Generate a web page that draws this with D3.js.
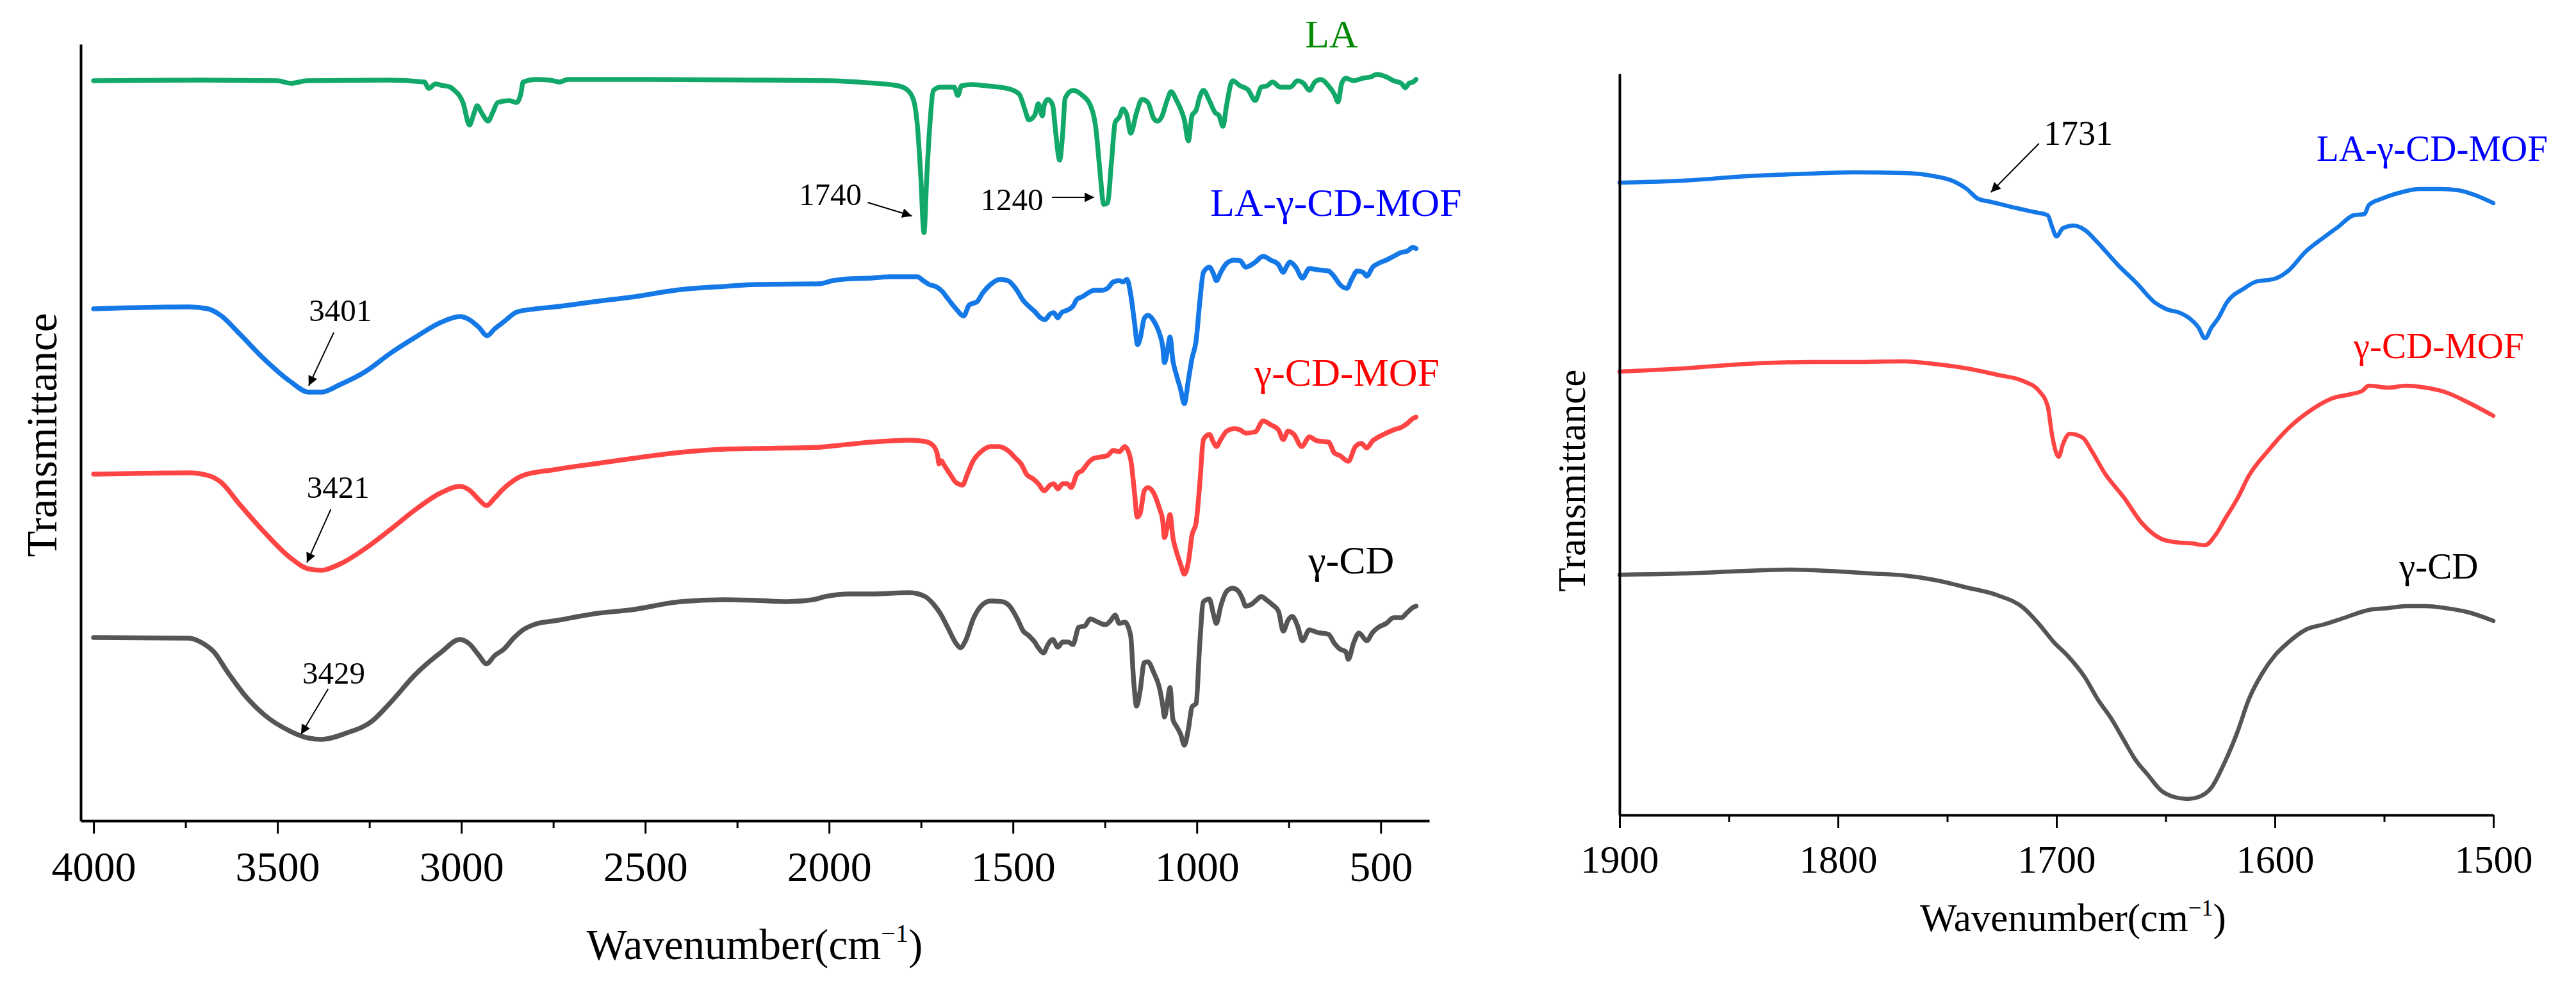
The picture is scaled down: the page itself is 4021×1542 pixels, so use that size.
<!DOCTYPE html>
<html><head><meta charset="utf-8">
<script src="https://cdn.jsdelivr.net/npm/d3@7"></script>
<style>
body{margin:0;background:#fff}
svg{display:block}
text{font-family:"Liberation Serif","Times New Roman",serif}
</style>
</head><body>
<svg id="c" width="4021" height="1542"></svg>
<script>
// ---------- DATA (wavenumber cm-1, transmittance in arbitrary offset units) ----------
const laFull = [[4000,115.5],[3700,115.6],[3500,115.5],[3463,115.1],[3420,115.5],[3200,115.6],[3100,115.3],[3089,114.3],[3070,115.0],[3055,114.8],[3030,114.5],[3021,114.1],[2995,112.0],[2978,108.6],[2965,110.5],[2957,111.6],[2945,110.5],[2927,109.2],[2915,110.5],[2901,112.1],[2870,112.4],[2850,112.1],[2838,113.5],[2832,115.3],[2798,115.7],[2760,115.6],[2733,115.3],[2710,115.7],[2500,115.7],[2200,115.6],[2000,115.5],[1900,115.2],[1812,114.7],[1786,114.0],[1770,112.4],[1760,108.6],[1751,100.9],[1742,91.8],[1734,100.9],[1726,108.6],[1716,114.0],[1697,114.5],[1660,114.5],[1650,113.2],[1640,114.7],[1613,114.9],[1572,114.7],[1509,114.2],[1483,113.4],[1467,110.9],[1457,109.4],[1441,110.1],[1431,111.9],[1420,110.0],[1415,111.7],[1405,112.6],[1392,111.7],[1384,107.5],[1373,103.1],[1365,107.1],[1358,112.8],[1337,114.0],[1311,113.2],[1290,111.7],[1274,107.8],[1264,101.7],[1253,96.2],[1243,96.4],[1232,102.9],[1222,109.0],[1211,109.8],[1201,111.1],[1190,110.1],[1180,107.3],[1164,110.5],[1149,112.6],[1133,112.1],[1117,109.6],[1107,109.2],[1096,109.8],[1081,112.4],[1070,113.8],[1055,112.4],[1044,111.1],[1034,109.4],[1023,106.1],[1013,110.1],[1002,110.9],[992,113.0],[982,114.0],[966,112.4],[950,110.5],[940,110.1],[929,108.4],[919,111.7],[903,115.5],[882,114.7],[861,114.1],[841,112.4],[825,114.5],[809,114.7],[794,115.3],[773,114.5],[746,114.5],[726,115.5],[710,115.1],[694,114.0],[679,115.3],[663,115.7],[642,114.7],[626,113.4],[616,112.2],[606,115.1],[595,115.9],[574,115.5],[548,115.9],[527,116.1],[511,116.5],[485,116.1],[465,115.5],[444,115.1],[433,114.4],[423,115.1],[412,115.3],[404,115.7]];

const laMofFull = [[4000,79.9],[3740,80.2],[3689,79.9],[3655,78.9],[3603,76.0],[3535,72.0],[3466,68.6],[3415,66.9],[3381,66.9],[3329,68.1],[3261,70.1],[3192,73.0],[3124,75.5],[3055,77.8],[3004,78.7],[2978,78.2],[2952,77.0],[2930,75.7],[2909,76.8],[2884,77.9],[2849,79.4],[2798,79.9],[2747,80.2],[2627,81.1],[2541,81.7],[2404,82.9],[2284,83.4],[2198,83.7],[2027,83.8],[1990,84.3],[1941,84.6],[1885,84.7],[1833,84.9],[1760,84.9],[1744,84.3],[1728,83.7],[1707,83.3],[1692,82.6],[1676,81.4],[1655,79.9],[1634,78.8],[1619,80.5],[1598,81.0],[1582,82.4],[1561,83.7],[1535,84.5],[1514,84.3],[1493,83.1],[1472,81.2],[1457,80.3],[1441,79.5],[1425,78.5],[1413,78.2],[1399,79.1],[1389,79.3],[1378,78.5],[1368,79.3],[1352,79.7],[1337,80.3],[1326,81.4],[1311,81.8],[1295,82.4],[1279,82.8],[1258,82.8],[1243,83.1],[1227,84.1],[1211,84.3],[1201,84.1],[1190,84.5],[1180,82.2],[1170,78.0],[1161,74.3],[1154,75.3],[1143,78.4],[1133,78.9],[1117,78.0],[1102,76.1],[1093,74.1],[1088,71.5],[1081,73.0],[1073,75.5],[1065,71.8],[1055,69.5],[1044,67.3],[1034,65.1],[1023,68.8],[1013,72.2],[1002,74.9],[992,81.0],[982,85.6],[966,86.4],[955,85.4],[947,84.3],[935,85.6],[919,87.0],[898,87.5],[882,87.4],[867,86.4],[851,86.8],[841,87.2],[820,88.1],[799,87.5],[778,86.8],[765,85.6],[757,86.4],[747,87.2],[731,86.4],[713,84.7],[694,86.2],[673,86.0],[642,85.8],[626,84.9],[611,83.7],[592,83.1],[579,84.5],[564,85.8],[548,85.6],[538,85.0],[522,86.4],[506,87.0],[485,87.5],[465,88.1],[444,88.7],[428,88.9],[412,89.5],[404,89.3]];

const mofFull = [[4000,54.1],[3740,54.3],[3689,53.9],[3655,52.9],[3603,49.4],[3535,45.0],[3466,41.1],[3415,39.3],[3381,39.1],[3329,40.1],[3261,42.5],[3192,45.5],[3124,48.6],[3055,51.2],[3004,52.2],[2978,51.6],[2952,50.1],[2932,49.2],[2909,50.4],[2884,51.9],[2832,53.9],[2747,54.8],[2627,55.8],[2541,56.5],[2404,57.5],[2284,58.0],[2198,58.1],[2027,58.3],[1990,58.5],[1885,59.1],[1781,59.4],[1739,59.2],[1716,58.5],[1705,57.0],[1701,55.7],[1695,56.2],[1687,55.5],[1671,54.1],[1655,52.8],[1637,52.4],[1624,54.1],[1608,56.2],[1587,57.6],[1561,58.4],[1540,58.4],[1514,57.8],[1493,56.6],[1478,55.7],[1462,54.0],[1446,53.4],[1431,52.6],[1415,51.5],[1399,52.4],[1389,52.6],[1378,51.8],[1365,52.6],[1352,52.6],[1342,52.0],[1326,54.1],[1311,54.7],[1295,55.9],[1279,56.6],[1258,56.8],[1243,57.0],[1227,57.8],[1211,57.6],[1196,58.4],[1180,56.4],[1170,51.5],[1162,47.4],[1154,48.0],[1143,51.5],[1133,52.0],[1117,51.1],[1102,48.8],[1093,46.9],[1088,44.2],[1081,45.7],[1073,47.8],[1065,44.2],[1055,41.9],[1044,40.0],[1034,38.5],[1023,40.4],[1013,44.6],[1002,46.5],[992,52.6],[982,59.5],[966,60.3],[955,59.1],[947,58.4],[935,59.5],[919,60.8],[898,61.2],[882,61.0],[867,60.5],[841,60.7],[820,62.4],[799,61.8],[778,61.0],[765,59.5],[752,60.8],[736,60.3],[715,58.4],[694,59.9],[673,59.3],[642,59.1],[626,57.4],[611,57.0],[588,56.1],[569,58.4],[553,58.9],[538,58.2],[522,59.3],[506,59.9],[485,60.5],[465,61.0],[444,61.4],[428,62.0],[412,62.8],[404,63.0]];

const cdFull = [[4000,28.6],[3740,28.5],[3706,27.8],[3672,26.3],[3638,23.4],[3586,19.4],[3535,16.5],[3466,14.0],[3415,12.9],[3381,12.7],[3312,13.7],[3244,15.5],[3192,18.5],[3124,22.9],[3055,26.3],[3004,28.3],[2978,27.6],[2952,25.8],[2932,24.5],[2909,25.8],[2884,26.8],[2858,28.5],[2832,29.8],[2798,30.7],[2747,31.2],[2627,32.4],[2541,32.9],[2404,34.2],[2284,34.5],[2198,34.4],[2113,34.2],[2044,34.5],[2010,35.0],[1941,35.4],[1885,35.4],[1781,35.6],[1739,35.0],[1716,33.8],[1697,32.3],[1676,30.0],[1655,27.7],[1643,27.0],[1629,28.1],[1608,31.5],[1587,33.5],[1561,34.3],[1530,34.2],[1509,33.5],[1488,31.5],[1472,29.6],[1457,28.9],[1441,27.9],[1431,27.0],[1417,26.2],[1405,27.5],[1392,28.3],[1378,27.1],[1365,27.9],[1350,27.9],[1337,27.5],[1321,30.2],[1305,30.4],[1290,31.5],[1269,31.0],[1248,30.6],[1235,31.2],[1222,32.1],[1211,30.8],[1196,31.0],[1180,28.9],[1172,22.0],[1164,17.9],[1154,20.4],[1143,24.7],[1133,24.8],[1117,23.1],[1102,20.8],[1093,18.1],[1088,16.2],[1081,18.1],[1073,20.8],[1065,15.8],[1055,14.7],[1044,13.5],[1034,11.8],[1023,14.3],[1013,17.8],[1002,18.3],[992,27.7],[982,34.2],[966,34.6],[955,32.3],[947,30.8],[935,33.5],[919,35.8],[903,36.3],[888,35.9],[877,34.8],[867,33.5],[851,33.8],[835,34.6],[825,35.0],[809,34.4],[794,33.7],[778,32.7],[765,29.6],[752,31.3],[741,31.9],[726,30.4],[713,28.1],[694,29.8],[673,29.4],[642,29.1],[626,27.7],[611,26.8],[595,26.4],[588,25.2],[574,27.7],[559,29.3],[538,28.1],[522,29.4],[506,30.2],[485,30.8],[465,31.7],[444,31.7],[428,32.5],[412,33.3],[404,33.5]];

const laMofZoom = [[1900,98.7],[1871,99.0],[1842,99.7],[1813,100.1],[1793,100.3],[1770,100.2],[1756,99.7],[1747,98.9],[1741,97.7],[1736,96.2],[1730,95.7],[1718,94.7],[1710,94.1],[1704,93.6],[1702,91.8],[1700,90.3],[1697,91.6],[1692,92.0],[1687,91.3],[1681,89.3],[1672,85.9],[1663,82.9],[1655,80.0],[1650,79.0],[1643,78.3],[1639,77.5],[1635,76.1],[1632,74.4],[1629,76.1],[1626,77.5],[1622,80.0],[1614,82.2],[1609,83.2],[1600,83.7],[1594,84.9],[1586,87.9],[1577,90.3],[1571,91.8],[1564,93.6],[1559,93.8],[1557,95.2],[1551,96.2],[1542,97.2],[1534,97.7],[1525,97.7],[1516,97.5],[1508,96.7],[1500,95.5]];

const mofZoom = [[1900,69.2],[1871,69.7],[1842,70.4],[1813,70.7],[1793,70.7],[1770,70.8],[1756,70.4],[1741,69.7],[1727,68.7],[1715,67.7],[1708,66.2],[1704,63.8],[1702,59.3],[1699,55.9],[1697,57.9],[1694,59.5],[1688,58.9],[1684,56.9],[1678,53.4],[1669,49.5],[1661,45.6],[1652,43.1],[1646,42.6],[1638,42.4],[1632,42.1],[1627,43.8],[1623,46.1],[1617,49.5],[1612,52.9],[1603,56.9],[1594,60.3],[1583,63.3],[1574,65.0],[1565,65.7],[1560,66.2],[1557,67.0],[1548,66.7],[1540,67.0],[1531,66.7],[1522,66.0],[1511,64.3],[1500,62.3]];

const cdZoom = [[1900,37.5],[1871,37.7],[1842,38.1],[1822,38.3],[1799,38.0],[1785,37.7],[1770,37.4],[1756,36.7],[1741,35.5],[1727,34.3],[1715,32.3],[1708,29.8],[1701,26.9],[1695,24.9],[1687,21.5],[1681,18.0],[1675,15.1],[1669,11.6],[1664,8.7],[1658,6.2],[1652,3.8],[1646,2.8],[1640,2.5],[1635,2.8],[1629,4.3],[1623,8.2],[1617,13.1],[1612,18.0],[1606,22.0],[1600,24.9],[1594,26.9],[1586,28.9],[1577,29.8],[1568,30.8],[1557,32.0],[1548,32.3],[1540,32.6],[1531,32.6],[1522,32.3],[1511,31.6],[1500,30.3]];

const fullMajorTicks = [4000,3500,3000,2500,2000,1500,1000,500];
const fullMinorTicks = [3750,3250,2750,2250,1750,1250,750];
const zoomMajorTicks = [1900,1800,1700,1600,1500];
const zoomMinorTicks = [1850,1750,1650,1550];

const seriesNames = ["LA","LA-\u03B3-CD-MOF","\u03B3-CD-MOF","\u03B3-CD"];

// annotations (data units)
const fullPeakNotes = [
  {text:"1740", tx:1997, ty:96.1, x1:1895, y1:96.5, x2:1775, y2:94.4},
  {text:"1240", tx:1503, ty:95.3, x1:1394, y1:97.3, x2:1279, y2:97.3},
  {text:"3401", tx:3329, ty:78.0, x1:3347, y1:76.2, x2:3415, y2:67.9},
  {text:"3421", tx:3335, ty:50.4, x1:3355, y1:48.6, x2:3420, y2:40.3},
  {text:"3429", tx:3347, ty:21.4, x1:3362, y1:20.6, x2:3436, y2:13.5}
];
const zoomPeakNotes = [
  {text:"1731", tx:1690, ty:104.6, x1:1708, y1:104.8, x2:1730, y2:97.2}
];
const fullLabelPos = [[634,120.7],[622,94.4],[592,67.9],[580,38.6]];
const zoomLabelPos = [[1528,102.1],[1525,71.3],[1525,36.9]];

// ---------- STYLE ----------
const lineColors = {"LA":"#12a86a","LA-\u03B3-CD-MOF":"#1478e6","\u03B3-CD-MOF":"#ff4444","\u03B3-CD":"#555555"};
const textColors = {"LA":"#008800","LA-\u03B3-CD-MOF":"#0000ff","\u03B3-CD-MOF":"#ff0000","\u03B3-CD":"#000000"};
const SERIF = '"Liberation Serif","Times New Roman",serif';

const svg = d3.select("#c");
svg.append("rect").attr("width",4021).attr("height",1542).attr("fill","#fff");

svg.append("defs").append("marker")
  .attr("id","arrow").attr("viewBox","0 0 10 10").attr("refX",10).attr("refY",5)
  .attr("markerWidth",30).attr("markerHeight",15).attr("markerUnits","userSpaceOnUse")
  .attr("orient","auto")
  .append("path").attr("d","M0,0L10,5L0,10z").attr("fill","#000");

function drawPanel(cfg){
  const x = d3.scaleLinear().domain(cfg.xDomain).range(cfg.xRange);
  const y = d3.scaleLinear().domain(cfg.yDomain).range(cfg.yRange);
  const g = svg.append("g").attr("font-family",SERIF);

  const line = d3.line().x(d=>x(d[0])).y(d=>y(d[1])).curve(d3.curveMonotoneX);
  cfg.series.forEach(s=>{
    g.append("path").datum(s.data).attr("d",line)
      .attr("fill","none").attr("stroke",lineColors[s.name])
      .attr("stroke-width",cfg.lineWidth).attr("stroke-linejoin","round").attr("stroke-linecap","round");
  });

  // minor ticks
  const minor = g.append("g").attr("transform",`translate(0,${cfg.yRange[0]})`)
    .call(d3.axisBottom(x).tickValues(cfg.minorTicks).tickSize(11).tickSizeOuter(0).tickFormat(""));
  minor.select(".domain").remove();
  minor.selectAll("line").attr("stroke","#000").attr("stroke-width",3);

  // major axis
  const ax = g.append("g").attr("transform",`translate(0,${cfg.yRange[0]})`)
    .call(d3.axisBottom(x).tickValues(cfg.majorTicks).tickSize(20).tickSizeOuter(0).tickFormat(d3.format("d")));
  ax.attr("font-family",SERIF);
  ax.select(".domain").attr("stroke","#000").attr("stroke-width",4);
  ax.selectAll(".tick line").attr("stroke","#000").attr("stroke-width",3);
  ax.selectAll(".tick text").attr("y",cfg.tickLabelY).attr("dy",0)
    .attr("font-size",cfg.tickFont).attr("fill","#000")
    .attr("font-family",SERIF);

  // y axis line (no ticks)
  const ay = g.append("g").attr("transform",`translate(${cfg.xRange[0]},0)`)
    .call(d3.axisLeft(y).tickValues([]).tickSizeOuter(0));
  ay.select(".domain").attr("stroke","#000").attr("stroke-width",4);

  // titles
  const xt = g.append("text").attr("x",cfg.xTitle[0]).attr("y",cfg.xTitle[1])
    .attr("text-anchor","middle").attr("font-size",cfg.titleFont).attr("fill","#000");
  xt.append("tspan").text("Wavenumber(cm");
  xt.append("tspan").text("\u22121").attr("font-size",cfg.titleFont*0.6).attr("dy",-cfg.titleFont*0.4);
  xt.append("tspan").text(")").attr("dy",cfg.titleFont*0.4);

  g.append("text").attr("transform",`translate(${cfg.yTitle[0]},${cfg.yTitle[1]}) rotate(-90)`)
    .attr("text-anchor","middle").attr("font-size",cfg.titleFont).attr("fill","#000")
    .text("Transmittance");

  // series labels
  cfg.labels.forEach(l=>{
    g.append("text").attr("x",x(l.pos[0])).attr("y",y(l.pos[1]))
      .attr("text-anchor","middle").attr("font-size",cfg.labelFont)
      .attr("fill",textColors[l.name]).text(l.name);
  });

  // peak notes
  cfg.notes.forEach(n=>{
    g.append("text").attr("x",x(n.tx)).attr("y",y(n.ty)).attr("text-anchor","middle")
      .attr("font-size",cfg.noteFont).attr("fill","#000").text(n.text);
    g.append("line").attr("x1",x(n.x1)).attr("y1",y(n.y1)).attr("x2",x(n.x2)).attr("y2",y(n.y2))
      .attr("stroke","#000").attr("stroke-width",2).attr("marker-end","url(#arrow)");
  });
}

drawPanel({
  xDomain:[4035,368], xRange:[126,2231],
  yDomain:[0,121.2], yRange:[1281,69],
  series:[
    {name:seriesNames[0], data:laFull},
    {name:seriesNames[1], data:laMofFull},
    {name:seriesNames[2], data:mofFull},
    {name:seriesNames[3], data:cdFull}
  ],
  majorTicks:fullMajorTicks, minorTicks:fullMinorTicks,
  tickFont:66, tickLabelY:94, titleFont:67, labelFont:62, noteFont:49, lineWidth:7.5,
  xTitle:[1178,1497], yTitle:[88,679],
  labels:seriesNames.map((n,i)=>({name:n,pos:fullLabelPos[i]})),
  notes:fullPeakNotes
});

drawPanel({
  xDomain:[1900,1500], xRange:[2528,3892],
  yDomain:[0,115.7], yRange:[1272,115],
  series:[
    {name:seriesNames[1], data:laMofZoom},
    {name:seriesNames[2], data:mofZoom},
    {name:seriesNames[3], data:cdZoom}
  ],
  majorTicks:zoomMajorTicks, minorTicks:zoomMinorTicks,
  tickFont:61, tickLabelY:90, titleFont:61, labelFont:57, noteFont:54, lineWidth:6.5,
  xTitle:[3236,1453], yTitle:[2474,750],
  labels:seriesNames.slice(1).map((n,i)=>({name:n,pos:zoomLabelPos[i]})),
  notes:zoomPeakNotes
});
</script>
</body></html>
